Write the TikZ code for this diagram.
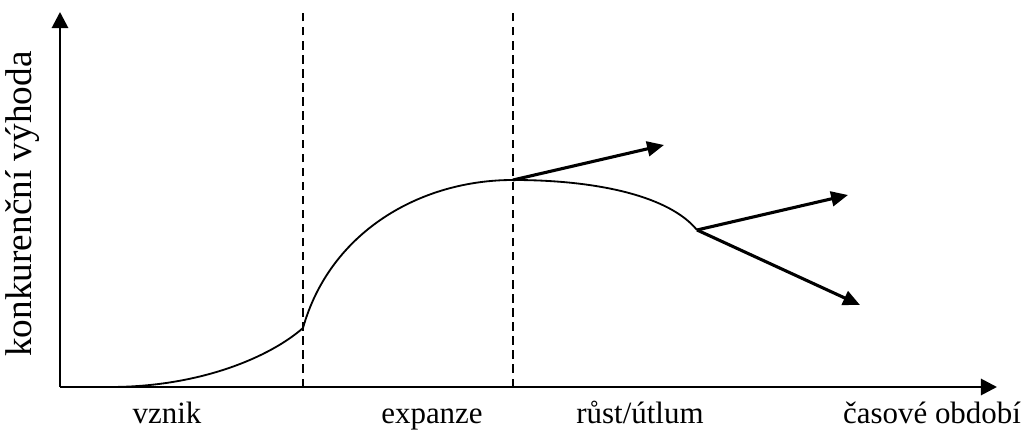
\documentclass[tikz,border=0pt]{standalone}
\usepackage{fontspec}
\setmainfont{Liberation Serif}
\usetikzlibrary{arrows.meta}
\tikzset{
  axis/.style={line width=2pt,-{Triangle[length=11.5pt,width=11.5pt]}},
  trend/.style={line width=2.2pt,-{Triangle[length=12pt,width=10.5pt]}},
  phase/.style={line width=1.1pt,dash pattern=on 6pt off 4pt},
  lbl/.style={font=\fontsize{22}{26}\selectfont,inner sep=0pt,anchor=base}
}
\begin{document}
\begin{tikzpicture}[x=0.025cm,y=0.025cm]
  \useasboundingbox (0,0) rectangle (1025,432);
  \coordinate (o) at (60,45);
  \coordinate (ytip) at (60,420);
  \coordinate (xtip) at (997,45);
  \coordinate (s) at (110,45);
  \coordinate (a) at (303,104);
  \coordinate (b) at (513,252);
  \coordinate (c) at (697,202);
  \coordinate (d1) at (303,421); \coordinate (d1b) at (303,45);
  \coordinate (d2) at (513,421); \coordinate (d2b) at (513,45);
  \coordinate (e1) at (664,287);
  \coordinate (e2) at (848,237);
  \coordinate (e3) at (860,127);
  % phases
  \draw[phase] (d1b) -- (d1);
  \draw[phase] (d2b) -- (d2);
  % axes
  \draw[axis] (o) -- (ytip);
  \draw[axis] (o) -- (xtip);
  % curve
  \draw[line width=1.3pt] (s) .. controls (200,45) and (270,75) .. (a)
    .. controls (330,200) and (420,252) .. (b)
    .. controls (600,252) and (670,235) .. (c);
  \draw[trend] (b) -- (e1);
  \draw[trend] (c) -- (e2);
  \draw[trend] (c) -- (e3);
  % labels
  \node[lbl] (vznik) at (167,8) {vznik};
  \node[lbl] (exp) at (432,8) {expanze};
  \node[lbl] (rust) at (640,8) {růst/útlum};
  \node[lbl] (cas) at (932,8) {časové období};
  \node[lbl,rotate=90,anchor=center,font=\fontsize{26.5}{30}\selectfont] (vyh) at (23,228) {konkurenční výhoda};
\end{tikzpicture}
\end{document}
